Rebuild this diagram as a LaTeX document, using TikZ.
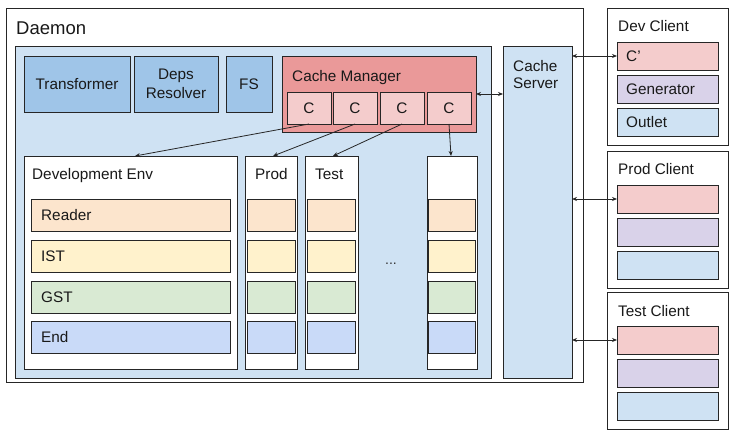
\documentclass[tikz,border=0pt]{standalone}
\usepackage{fontspec}
\setmainfont{Liberation Sans}
\usetikzlibrary{positioning,arrows.meta}
\definecolor{bgblue}{HTML}{CFE2F3}
\definecolor{midblue}{HTML}{9FC5E8}
\definecolor{cmred}{HTML}{EA9999}
\definecolor{cpink}{HTML}{F4CCCC}
\definecolor{rdorange}{HTML}{FCE5CD}
\definecolor{istyellow}{HTML}{FFF2CC}
\definecolor{gstgreen}{HTML}{D9EAD3}
\definecolor{endblue}{HTML}{C9DAF8}
\definecolor{genpurple}{HTML}{D9D2E9}
\begin{document}
\begin{tikzpicture}[x=1pt,y=-1pt,
  every node/.style={font=\fontsize{15.3}{19.5}\selectfont,text=black!90},
  blk/.style={draw=black!85,line width=0.8pt,inner sep=0pt,outer sep=0pt,anchor=north west},
  title/.style={anchor=base west,inner sep=0pt},
  link/.style={line width=0.8pt,draw=black!85,-{Stealth[length=5pt,width=4pt]}},
  dlink/.style={link,{Stealth[length=5pt,width=4pt]}-{Stealth[length=5pt,width=4pt]}}]
\useasboundingbox (0,0) rectangle (735,435);
% Daemon
\node[blk,fill=white,minimum width=577,minimum height=374] (daemon) at (6,8) {};
\node[title,font=\fontsize{18.5}{21}\selectfont] (daemonlbl) at ([shift={(10,27)}]daemon.north west) {Daemon};
\node[blk,fill=bgblue,minimum width=476,minimum height=332] (core) at (15,46) {};
\node[blk,fill=midblue,minimum width=106,minimum height=56] (transformer) at (24,56) {Transformer};
\node[blk,fill=midblue,minimum width=84,minimum height=56,align=center] (deps) at (134,56) {Deps\\Resolver};
\node[blk,fill=midblue,minimum width=46,minimum height=56] (fs) at (226,56) {FS};
% Cache Manager
\node[blk,fill=cmred,minimum width=194,minimum height=76] (cachemgr) at (282,56) {};
\node[title] (cachemgrlbl) at ([shift={(10,26)}]cachemgr.north west) {Cache Manager};
\foreach \i/\x in {1/287,2/333,3/380,4/427}
  \node[blk,fill=cpink,minimum width=44,minimum height=32] (c\i) at (\x,92) {C};
% Cache Server
\node[blk,fill=bgblue,minimum width=69,minimum height=332] (cachesrv) at (503,46) {};
\node[anchor=north west,inner sep=0pt,align=left,font=\fontsize{15.3}{17.5}\selectfont] (cachesrvlbl) at ([shift={(10,14)}]cachesrv.north west) {Cache\\Server};
% Environments
\node[blk,fill=white,minimum width=213,minimum height=213] (devenv) at (24,156) {};
\node[blk,fill=white,minimum width=52,minimum height=213] (prodenv) at (245,156) {};
\node[blk,fill=white,minimum width=53,minimum height=213] (testenv) at (305,156) {};
\node[blk,fill=white,minimum width=50,minimum height=213] (lastenv) at (427,156) {};
\node[title] (devenvlbl) at ([shift={(8,24)}]devenv.north west) {Development Env};
\node[title] (prodenvlbl) at ([shift={(10,24)}]prodenv.north west) {Prod};
\node[title] (testenvlbl) at ([shift={(10,24)}]testenv.north west) {Test};
\foreach \e/\x/\w in {dev/31/199,prod/247/48,test/307/48,last/428/47}
  \foreach \r/\y/\col in {1/199/rdorange,2/240/istyellow,3/281/gstgreen,4/321/endblue}
    \node[blk,fill=\col,minimum width=\w,minimum height=32] (\e\r) at (\x,\y) {};
\foreach \r/\txt in {1/Reader,2/IST,3/GST,4/End}
  \node[anchor=west,inner sep=0pt] (devlbl\r) at ([xshift=10pt]dev\r.west) {\txt};
\node[font=\fontsize{14}{16}\selectfont,text=black!80] (dots) at (391,264) {...};
% Clients
\foreach \c/\y/\name in {devcl/8/Dev Client,prodcl/151/Prod Client,testcl/292/Test Client}{
  \node[blk,fill=white,minimum width=121,minimum height=137] (\c) at (607,\y) {};
  \node[title] (\c lbl) at ([shift={(11,24)}]\c.north west) {\name};
  \node[blk,fill=cpink,minimum width=101,minimum height=28] (\c1) at ([shift={(10,34)}]\c.north west) {};
  \node[blk,fill=genpurple,minimum width=101,minimum height=28,below=5pt of \c1] (\c2) {};
  \node[blk,fill=bgblue,minimum width=101,minimum height=28,below=5pt of \c2] (\c3) {};
}
\node[anchor=west,inner sep=0pt] (cprime) at ([xshift=9pt]devcl1.west) {C'};
\node[anchor=west,inner sep=0pt] (genlbl) at ([xshift=9pt]devcl2.west) {Generator};
\node[anchor=west,inner sep=0pt] (outletlbl) at ([xshift=9pt]devcl3.west) {Outlet};
% Connectors
\draw[link] (c1.south) -- ([xshift=4.5pt]devenv.north);
\draw[link] (c2.south) -- ([xshift=2pt]prodenv.north);
\draw[link] (c3.south) -- ([xshift=1.5pt]testenv.north);
\draw[link] (c4.south) -- ([xshift=-1pt]lastenv.north);
\draw[dlink] (cachemgr.east) -- (cachemgr.east -| cachesrv.west);
\foreach \c in {devcl,prodcl,testcl}
  \draw[dlink] (\c1.west -| cachesrv.east) -- (\c1.west);
\end{tikzpicture}
\end{document}
